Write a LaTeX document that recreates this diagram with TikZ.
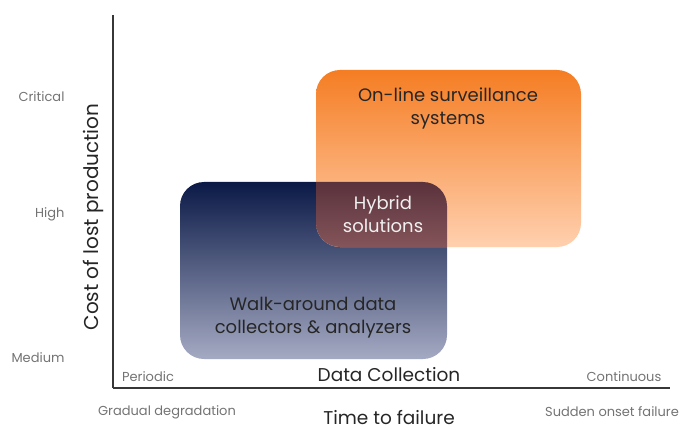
\documentclass[tikz,border=0pt]{standalone}
\usepackage{fontspec}
\setmainfont{Poppins}
\usetikzlibrary{positioning}
\definecolor{axisGray}{RGB}{55,55,55}
\definecolor{labelGray}{RGB}{115,115,115}
\definecolor{onlineTop}{RGB}{245,125,35}
\definecolor{onlineBottom}{RGB}{255,208,175}
\definecolor{walkTop}{RGB}{10,25,70}
\definecolor{walkBottom}{RGB}{165,170,195}
\definecolor{hybridTop}{RGB}{90,50,60}
\definecolor{hybridBottom}{RGB}{132,85,90}

\begin{document}
\begin{tikzpicture}[x=1pt, y=-1pt,
    ticklabel/.style={text=labelGray, font=\fontsize{13}{15}\selectfont},
    axislabel/.style={text=black!85, font=\fontsize{18.5}{20}\selectfont},
    boxtext/.style={align=center, text=black!85, font=\fontsize{18}{23}\selectfont}]
        \useasboundingbox (0,0) rectangle (687,430);
        \coordinate (O) at (113,388);
        \coordinate (Ytop) at (113,15);
        \coordinate (Xend) at (670,388);
        
        % the two zones and their overlap
        \shade[rounded corners=24pt, top color=walkTop, bottom color=walkBottom] (180,182) rectangle (447,359);
        \shade[rounded corners=24pt, top color=onlineTop, bottom color=onlineBottom] (316,70) rectangle (581,247);
        \begin{scope}
            \clip[rounded corners=24pt] (180,182) rectangle (447,359);
            \clip[rounded corners=24pt] (316,70) rectangle (581,247);
            \shade[top color=hybridTop, bottom color=hybridBottom] (316,182) rectangle (447,247);
        \end{scope}
        
        \draw[axisGray, line width=1.3pt] (Ytop)--(O);
        \draw[axisGray, line width=2pt] (O)--(Xend);
        
        \node[boxtext] (online) at (448,108) {On-line surveillance\\systems};
        \node[boxtext, text=white!88!gray] (hybrid) at (383,214) {Hybrid\\solutions};
        \node[boxtext] (walk) at (313,318) {Walk-around data\\collectors \& analyzers};
        
        \node[ticklabel, anchor=east] (critical) at (68,97) {Critical};
        \node[ticklabel, anchor=east] (high) at (68,214) {High};
        \node[ticklabel, anchor=east] (medium) at (68,358) {Medium};
        \node[axislabel, rotate=90, font=\fontsize{20}{22}\selectfont] (cost) at (93,217) {Cost of lost production};
        
        \node[ticklabel] (periodic) at (148,377) {Periodic};
        \node[axislabel] (collection) at (389,375) {Data Collection};
        \node[ticklabel] (continuous) at (624,377) {Continuous};
        \node[ticklabel] (gradual) at (167,412) {Gradual degradation};
        \node[axislabel] (time) at (389,418) {Time to failure};
        \node[ticklabel] (sudden) at (612,412) {Sudden onset failure};
    \end{tikzpicture}
\end{document}
